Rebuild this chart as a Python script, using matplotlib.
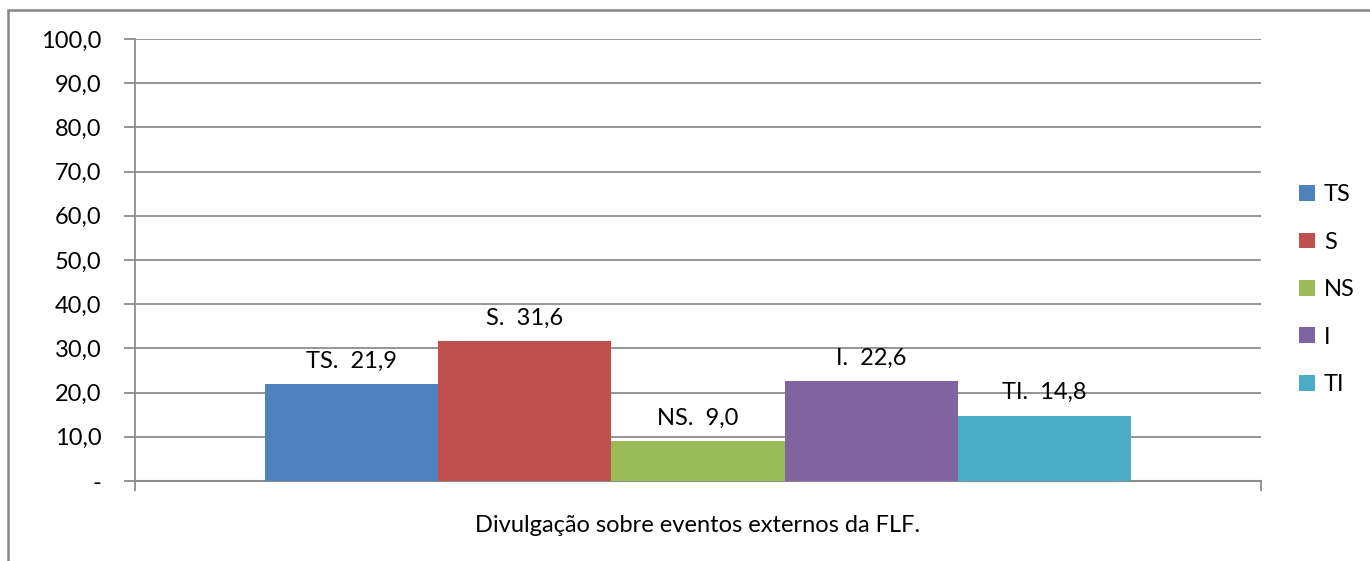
import matplotlib
matplotlib.use("Agg")
import matplotlib.pyplot as plt
from matplotlib.patches import Rectangle

categories = ["Divulgação sobre eventos externos da FLF."]
series = ["TS", "S", "NS", "I", "TI"]
values = [21.9, 31.6, 9.0, 22.6, 14.8]
colors = ["#4F81BD", "#C0504D", "#9BBB59", "#8064A2", "#4BACC6"]
yticks = [0, 10, 20, 30, 40, 50, 60, 70, 80, 90, 100]
ytick_labels = ["-", "10,0", "20,0", "30,0", "40,0", "50,0", "60,0", "70,0", "80,0", "90,0", "100,0"]

plt.rcParams['font.family'] = ['Lato', 'DejaVu Sans']
FS = 17
W, H = 1370, 561
fig = plt.figure(figsize=(W/100, H/100), dpi=100)

# outer chart border (only left/top visible in the reference)
fig.patches.append(Rectangle((8/W, -0.1), 1.2, (H-10)/H + 0.1, transform=fig.transFigure,
                             fill=False, edgecolor="#878787", linewidth=1.8, zorder=0))

ax = fig.add_axes([135/W, 1-481/H, (1261-135)/W, (481-39)/H])
grid_c = "#8c8c8c"
n = len(series)
group_w = 866/1126
bw = group_w / n
for i, (s, v, c) in enumerate(zip(series, values, colors)):
    x = -group_w/2 + bw*(i+0.5)
    ax.bar(x, v, width=bw, color=c, label=s, zorder=3)
    ax.text(x, v + 2.8, f"{s}.  " + f"{v:.1f}".replace(".", ","),
            ha="center", va="bottom", fontsize=FS, color="black", zorder=4)

ax.set_xlim(-0.5, 0.5)
ax.set_ylim(0, 100)
ax.set_yticks(yticks)
ax.set_yticklabels(ytick_labels, fontsize=FS)
ax.set_xticks([-0.5, 0.5])
ax.set_xticklabels([])
ax.tick_params(axis="y", direction="out", length=8, color=grid_c, width=1.3, pad=16)
ax.tick_params(axis="x", direction="out", length=7, color=grid_c, width=1.3)
ax.yaxis.grid(True, color=grid_c, linewidth=1.3, zorder=0)
ax.set_axisbelow(True)
for sp in ["top", "right"]:
    ax.spines[sp].set_visible(False)
ax.spines["left"].set_color(grid_c)
ax.spines["left"].set_linewidth(1.3)
ax.spines["bottom"].set_color(grid_c)
ax.spines["bottom"].set_linewidth(1.5)
ax.set_xlabel(categories[0], fontsize=FS, labelpad=14)

leg = ax.legend(loc="upper left", bbox_to_anchor=(1278/W, 1-163/H), bbox_transform=fig.transFigure,
                frameon=False, fontsize=FS, handlelength=0.65, handleheight=0.65,
                labelspacing=1.12, handletextpad=0.4)

fig.savefig("out.png", dpi=100)
